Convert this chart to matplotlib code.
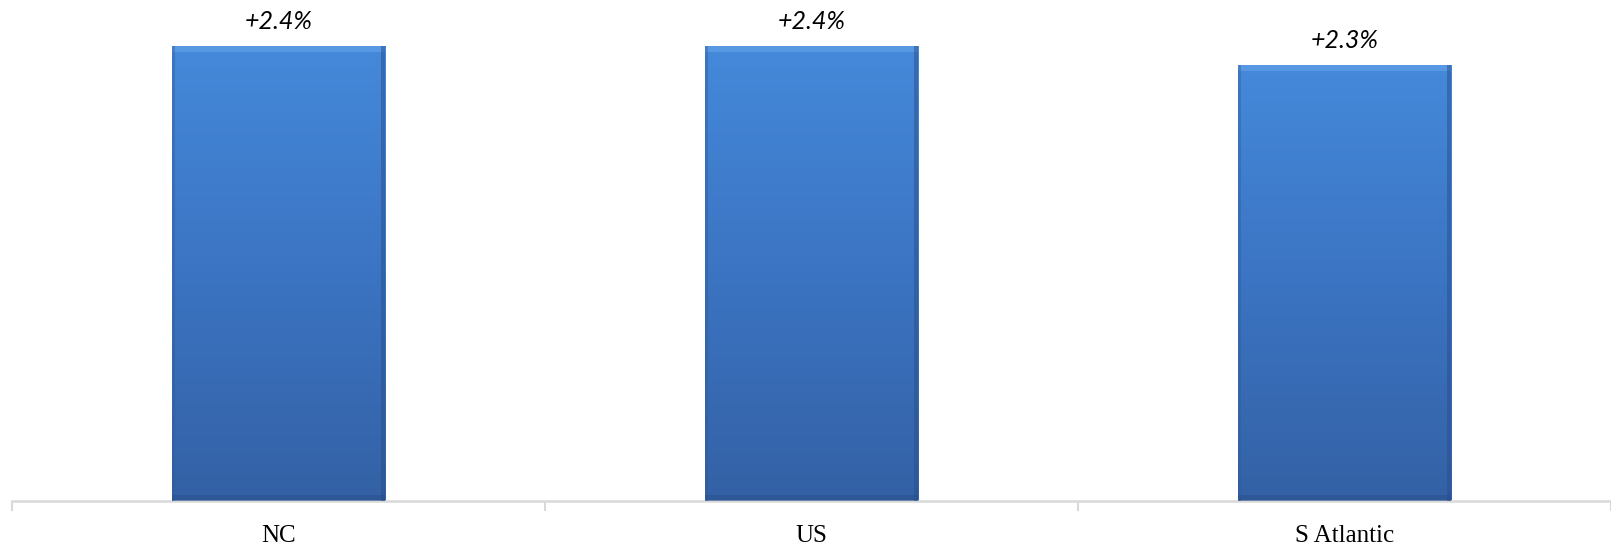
import numpy as np
import matplotlib.pyplot as plt
from matplotlib.colors import LinearSegmentedColormap
from matplotlib.patches import Rectangle

regions = ["NC", "US", "S Atlantic"]
growth = [2.4, 2.4, 2.3]
growth_labels = ["+2.4%", "+2.4%", "+2.3%"]

bar_width = 0.40
bar_cmap = LinearSegmentedColormap.from_list("bar", ["#3461a5", "#3b74c2", "#4589da"])

fig = plt.figure(figsize=(16.11, 5.48), dpi=100)
ax = fig.add_axes([12 / 1611, 47 / 548, 1 - 12 / 1611, 1 - 47 / 548])

x = np.arange(len(regions))
ax.set_xlim(-0.5, len(regions) - 0.5)
ax.set_ylim(0, 2.64)

grad = np.linspace(0, 1, 256).reshape(-1, 1)
for xi, val, lab in zip(x, growth, growth_labels):
    left, right = xi - bar_width / 2, xi + bar_width / 2
    # vertical gradient fill clipped to the bar
    rect = Rectangle((left, 0), bar_width, val, facecolor="none", edgecolor="none")
    ax.add_patch(rect)
    im = ax.imshow(grad, cmap=bar_cmap, extent=(left, right, 0, val),
                   origin="lower", aspect="auto", zorder=2)
    im.set_clip_path(rect)
    # bevel: light top strip, darker sides and base
    ax.add_patch(Rectangle((left, val - 0.035), bar_width, 0.035,
                           facecolor="#6aa6ea", edgecolor="none", alpha=0.55, zorder=3))
    ax.add_patch(Rectangle((right - 0.008, 0), 0.008, val,
                           facecolor="#2a4f8a", edgecolor="none", alpha=0.5, zorder=3))
    ax.add_patch(Rectangle((left, 0), 0.006, val,
                           facecolor="#2f5a9a", edgecolor="none", alpha=0.4, zorder=3))
    ax.add_patch(Rectangle((left, 0), bar_width, 0.03,
                           facecolor="#2a4f8a", edgecolor="none", alpha=0.5, zorder=3))
    ax.annotate(lab, (xi, val), xytext=(0, 17.5), textcoords="offset points",
                ha="center", va="center", fontsize=18, fontstyle="italic",
                family="Lato", color="black")

for side in ["top", "right", "left"]:
    ax.spines[side].set_visible(False)
ax.spines["bottom"].set_color("#d9d9d9")
ax.spines["bottom"].set_linewidth(1.8)

ax.set_yticks([])
ax.set_xticks(np.arange(len(regions) + 1) - 0.5, minor=True)
ax.tick_params(axis="x", which="minor", length=7, width=1.5, color="#d9d9d9")
ax.set_xticks(x)
ax.set_xticklabels(regions, family="Liberation Serif", fontsize=18)
ax.tick_params(axis="x", which="major", length=0, pad=17)

fig.savefig("out.png", dpi=100)
